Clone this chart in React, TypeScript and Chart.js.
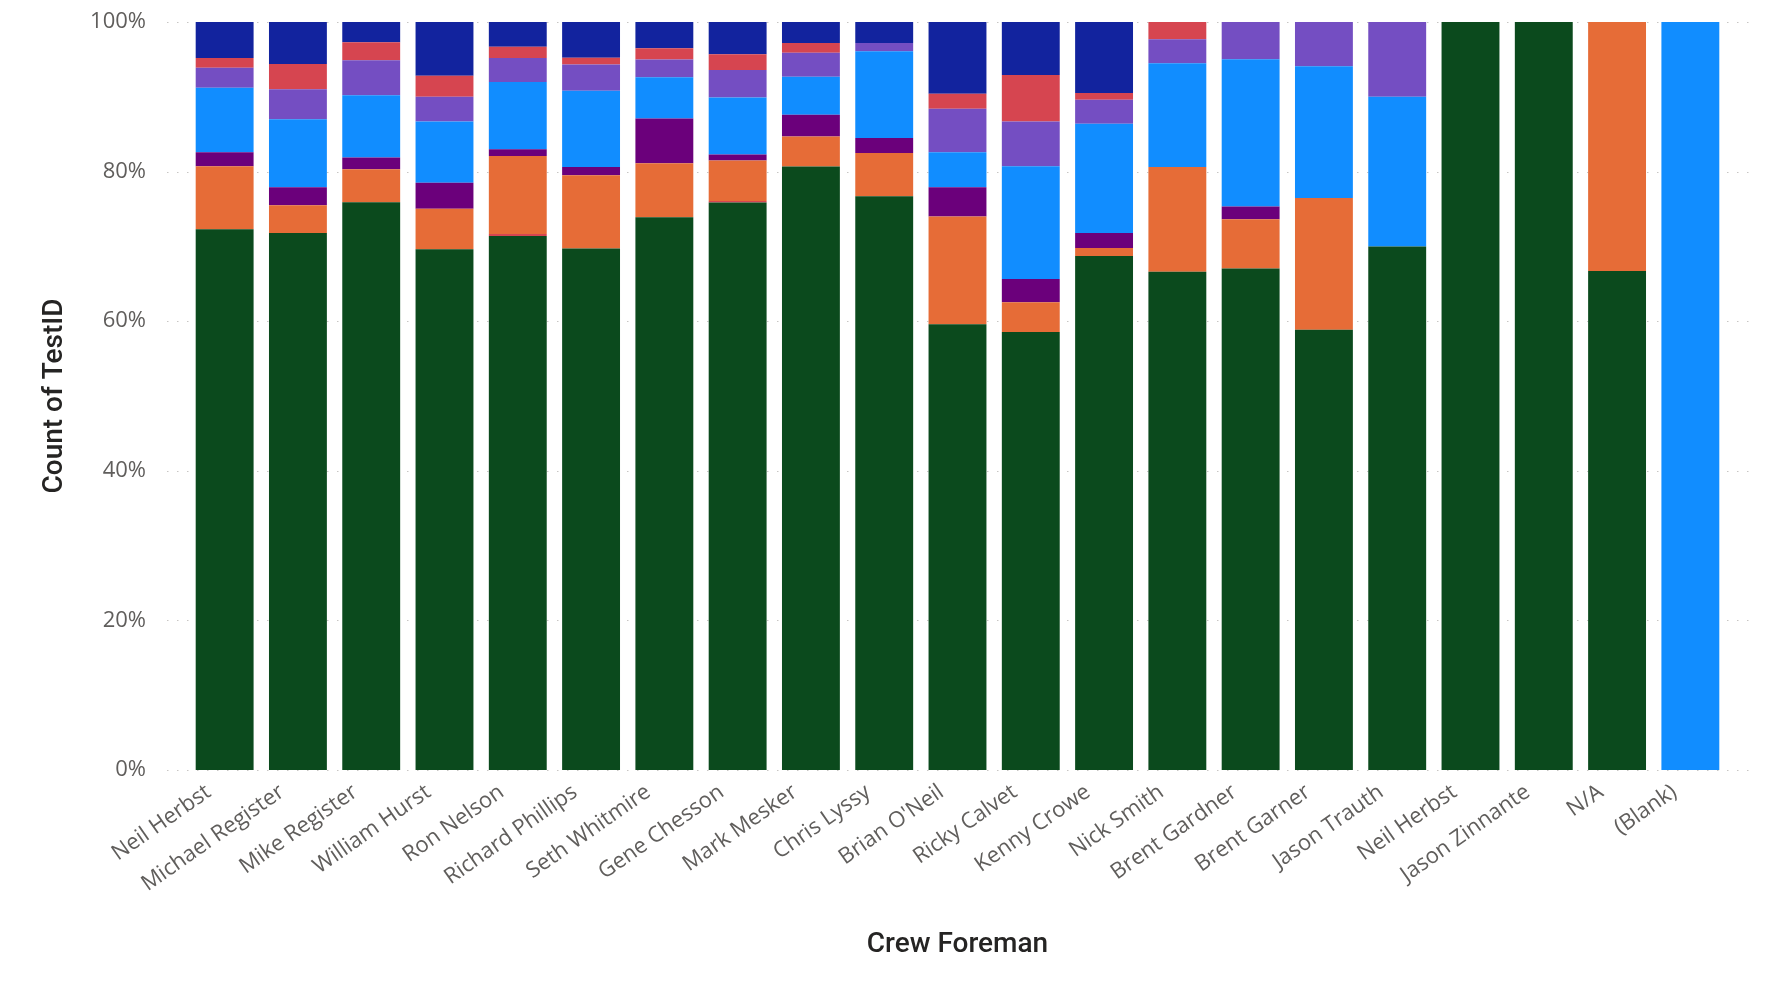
import React, { useEffect, useRef } from "react";
import { Chart, registerables } from "chart.js";

Chart.register(...registerables);

const categories = [
  "Neil Herbst", "Michael Register", "Mike Register", "William Hurst", "Ron Nelson",
  "Richard Phillips", "Seth Whitmire", "Gene Chesson", "Mark Mesker", "Chris Lyssy",
  "Brian O'Neil", "Ricky Calvet", "Kenny Crowe", "Nick Smith", "Brent Gardner",
  "Brent Garner", "Jason Trauth", "Neil Herbst", "Jason Zinnante", "N/A", "(Blank)",
];

const yTicks = [0, 20, 40, 60, 80, 100];

const seriesNames = ["S1", "S2", "S3", "S4", "S5", "S6", "S7", "S8"];
const seriesColors = ["#0B4A1D", "#D64550", "#E66C37", "#6B007B", "#118DFF", "#744EC2", "#D64550", "#12239E"];

const greenVals = [72.3, 71.8, 75.9, 69.7, 71.3, 69.8, 73.9, 75.8, 80.6, 76.7, 59.6, 58.6, 68.7, 66.6, 67.1, 58.8, 70, 100, 100, 66.7, 0];
const thinVals = [0, 0, 0, 0, 0.27, 0, 0, 0.23, 0, 0, 0, 0, 0, 0, 0, 0, 0, 0, 0, 0, 0];
const orangeVals = [8.4, 3.7, 4.4, 5.4, 10.4, 9.8, 7.2, 5.4, 4.0, 5.8, 14.4, 4.0, 1.1, 14.0, 6.6, 17.6, 0, 0, 0, 33.3, 0];
const darkPurpleVals = [1.9, 2.4, 1.6, 3.5, 0.9, 1.1, 6.0, 0.8, 2.9, 2.0, 3.9, 3.1, 2.0, 0, 1.7, 0, 0, 0, 0, 0, 0];
const blueVals = [8.6, 9.1, 8.3, 8.2, 9.0, 10.2, 5.5, 7.6, 5.1, 11.6, 4.7, 15.1, 14.6, 13.9, 19.7, 17.6, 20, 0, 0, 0, 100];
const purpleVals = [2.7, 4.0, 4.7, 3.3, 3.2, 3.5, 2.4, 3.7, 3.2, 1.1, 5.8, 6.0, 3.2, 3.2, 5.0, 5.9, 10, 0, 0, 0, 0];
const redVals = [1.3, 3.4, 2.4, 2.8, 1.5, 0.9, 1.5, 2.1, 1.3, 0, 2.0, 6.2, 0.9, 2.3, 0, 0, 0, 0, 0, 0, 0];
const navyVals = [4.8, 5.6, 2.7, 7.2, 3.3, 4.8, 3.5, 4.3, 2.8, 2.8, 9.6, 7.1, 9.5, 0, 0, 0, 0, 0, 0, 0, 0];

const allSeries = [greenVals, thinVals, orangeVals, darkPurpleVals, blueVals, purpleVals, redVals, navyVals];

const gridPlugin = {
  id: "dottedGrid",
  beforeDatasetsDraw(chart: any) {
    const ctx = chart.ctx;
    const y = chart.scales.y;
    const area = chart.chartArea;
    ctx.save();
    ctx.strokeStyle = "#C8C6C4";
    ctx.lineWidth = 1;
    ctx.setLineDash([1.5, 8.5]);
    for (const t of yTicks) {
      const py = Math.round(y.getPixelForValue(t)) + 0.5;
      ctx.beginPath();
      ctx.moveTo(area.left - 21, py);
      ctx.lineTo(area.right + 22, py);
      ctx.stroke();
    }
    ctx.restore();
  },
};

export default function App() {
  const ref = useRef<HTMLCanvasElement | null>(null);

  useEffect(() => {
    if (!ref.current) return;
    const totals = categories.map((_, i) => allSeries.reduce((s, arr) => s + arr[i], 0));
    const datasets = allSeries.map((arr, k) => ({
      label: seriesNames[k],
      data: arr.map((v, i) => (totals[i] ? (v / totals[i]) * 100 : 0)),
      backgroundColor: seriesColors[k],
      borderWidth: 0,
      categoryPercentage: 0.79,
      barPercentage: 1,
      stack: "a",
    }));
    const chart = new Chart(ref.current, {
      type: "bar",
      data: { labels: categories, datasets },
      plugins: [gridPlugin],
      options: {
        animation: false,
        responsive: false,
        devicePixelRatio: 1,
        layout: { padding: { left: 0, right: 47, top: 22, bottom: 0 } },
        plugins: { legend: { display: false }, tooltip: { enabled: false } },
        scales: {
          x: {
            stacked: true,
            grid: { display: false, drawTicks: false },
            border: { display: false },
            ticks: {
              color: "#605E5C",
              font: { family: "'Open Sans', sans-serif", size: 22 },
              minRotation: 35,
              maxRotation: 35,
              autoSkip: false,
              padding: 9,
              labelOffset: -16,
            },
            title: {
              display: true,
              text: "Crew Foreman",
              color: "#252423",
              font: { family: "Roboto, sans-serif", size: 28, weight: "500" },
              padding: { top: 0, bottom: 26 },
            },
            afterFit(scale: any) {
              scale.height = 218;
              scale.paddingLeft = 0;
              scale.paddingRight = 0;
            },
          },
          y: {
            stacked: true,
            min: 0,
            max: 100,
            grid: { display: false, drawTicks: false },
            border: { display: false },
            afterBuildTicks(scale: any) {
              scale.ticks = yTicks.map((v) => ({ value: v }));
            },
            ticks: {
              color: "#605E5C",
              font: { family: "'Open Sans', sans-serif", size: 22 },
              padding: 42,
              callback: (v: any) => v + "%",
            },
            title: {
              display: true,
              text: "Count of TestID",
              color: "#252423",
              font: { family: "Roboto, sans-serif", size: 28, weight: "500" },
              padding: { top: 38, bottom: 0 },
            },
            afterFit(scale: any) {
              scale.width = 188;
              scale.paddingTop = 0;
              scale.paddingBottom = 0;
            },
          },
        },
      },
    });
    return () => chart.destroy();
  }, []);

  return (
    <div style={{ position: "absolute", left: 0, top: 0, width: 1774, height: 988, background: "#fff" }}>
      <canvas ref={ref} width={1774} height={988} style={{ width: 1774, height: 988 }} />
    </div>
  );
}
